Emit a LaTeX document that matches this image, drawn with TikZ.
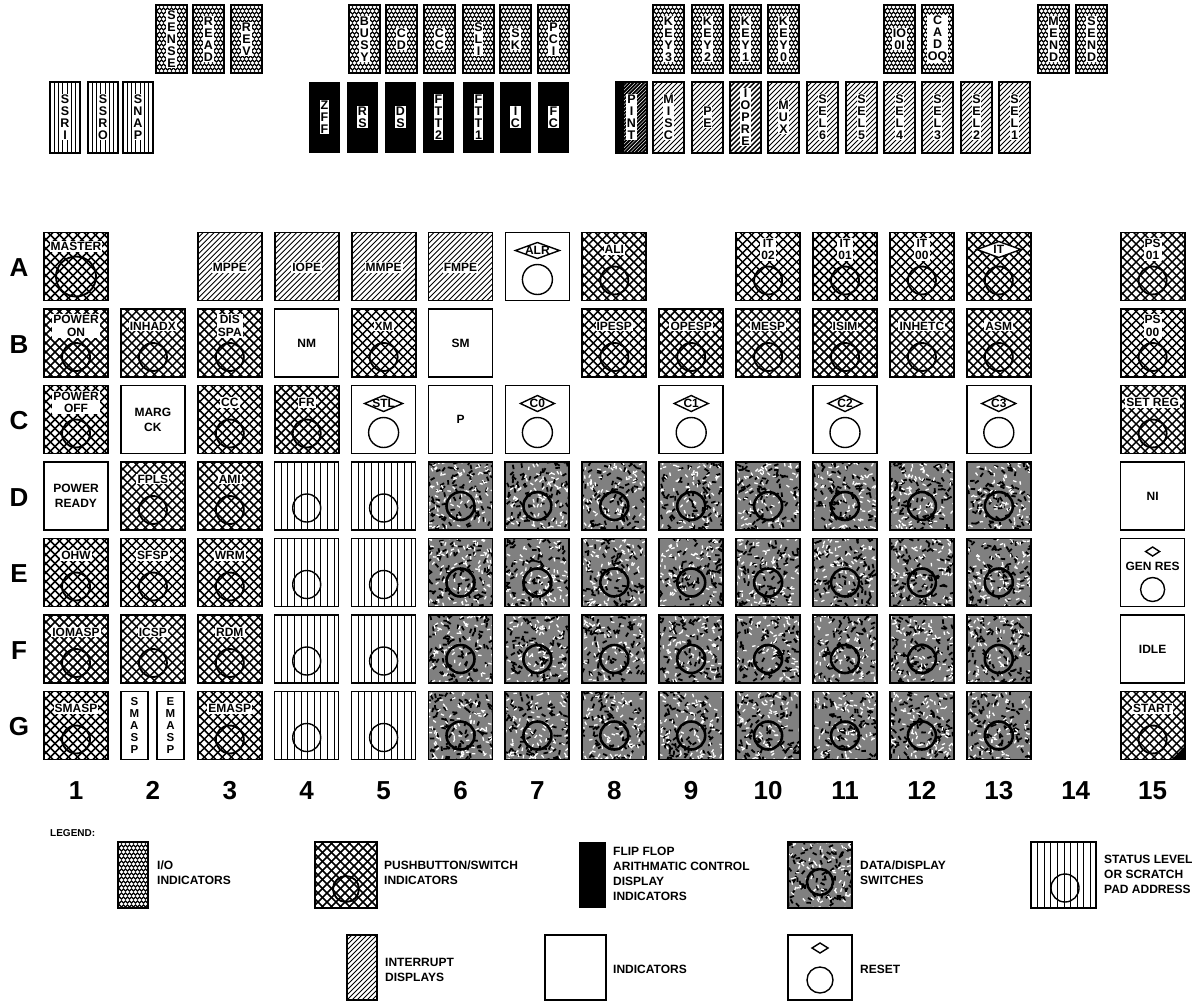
\documentclass[tikz,border=0pt]{standalone}
\usepackage{fontspec}
\setmainfont{Liberation Sans}

\tikzset{
  frame/.style={draw=black, line width=1.9pt},
  thinframe/.style={draw=black, line width=1.5pt},
  lab/.style={fill=white, inner sep=1.1pt, font=\fontsize{12}{12.5}\selectfont\bfseries, align=center},
  plainlab/.style={inner sep=1pt, font=\fontsize{12}{15}\selectfont\bfseries, align=center},
  vlab/.style={fill=white, inner sep=0.6pt, font=\fontsize{12.5}{12}\selectfont\bfseries, align=center},
  btn/.style={line width=1.9pt},
  rbtn/.style={line width=1.4pt},
  big/.style={font=\fontsize{26}{26}\selectfont\bfseries, inner sep=0pt, text height=18.6pt, text depth=0pt},
  legtext/.style={font=\fontsize{12}{15}\selectfont\bfseries, align=left, anchor=west, inner sep=0pt},
}

\newcommand\setcell[2]{\pgfmathsetmacro\cellX{44+(#1-1)*76.9}\pgfmathsetmacro\cellY{232.5+(#2-1)*76.5}}

% crosshatch fill  x y w h
\newcommand\xhfill[4]{\begin{scope}
  \clip (#1,#2) rectangle ++(#3,#4);
  \fill[white] (#1,#2) rectangle ++(#3,#4);
  \pgfmathtruncatemacro\nn{(#3+#4)/9+1}
  \foreach \i in {0,...,\nn}{
    \draw[line width=1.5pt] ({#1-#4+\i*9},{#2+#4}) -- ++(#4,-#4);
    \draw[line width=1.5pt] ({#1-#4+\i*9},{#2}) -- ++(#4,#4);
  }
  \end{scope}}
% diagonal lines fill  x y w h spacing width
\newcommand\ilfill[6]{\begin{scope}
  \clip (#1,#2) rectangle ++(#3,#4);
  \fill[white] (#1,#2) rectangle ++(#3,#4);
  \pgfmathtruncatemacro\nn{(#3+#4)/#5+1}
  \foreach \i in {0,...,\nn}{
    \draw[line width=#6] ({#1-#4+\i*#5},{#2+#4}) -- ++(#4,-#4);
  }
  \end{scope}}
% vertical lines fill  x y w h spacing
\newcommand\vlfill[5]{\begin{scope}
  \clip (#1,#2) rectangle ++(#3,#4);
  \fill[white] (#1,#2) rectangle ++(#3,#4);
  \pgfmathtruncatemacro\nn{#3/#5}
  \foreach \i in {1,...,\nn}{
    \draw[line width=0.9pt] ({#1+\i*#5},{#2}) -- ++(0,#4);
  }
  \end{scope}}
% dotted (I/O) fill  x y w h
\newcommand\dtfill[4]{\begin{scope}
  \clip (#1,#2) rectangle ++(#3,#4);
  \fill[black] (#1,#2) rectangle ++(#3,#4);
  \pgfmathtruncatemacro\nx{#3/4}
  \pgfmathtruncatemacro\ny{#4/4}
  \foreach \j in {0,...,\ny}{
    \pgfmathsetmacro\off{mod(\j,2)*2}
    \foreach \i in {0,...,\nx}{
      \fill[white] ({#1+1.5+\i*4+\off},{#2+2+\j*4}) circle (1.85);
    }
  }
  \end{scope}}
% speckle fill
\newcommand\speckle[4]{\begin{scope}
    \clip (#1,#2) rectangle ++(#3,#4);
    \fill[black!50] (#1,#2) rectangle ++(#3,#4);
    \foreach \k in {1,...,95}{
      \pgfmathsetmacro\px{#1+(#3+4)*rnd-2}
      \pgfmathsetmacro\py{#2+(#4+4)*rnd-2}
      \pgfmathsetmacro\pa{180*rnd}
      \draw[line width=1.8pt, black] (\px,\py) -- ++(\pa:4.5);
    }
    \foreach \k in {1,...,95}{
      \pgfmathsetmacro\px{#1+(#3+4)*rnd-2}
      \pgfmathsetmacro\py{#2+(#4+4)*rnd-2}
      \pgfmathsetmacro\pa{180*rnd}
      \draw[line width=1.3pt, white] (\px,\py) -- ++(\pa:3.5);
    }
  \end{scope}}

% pushbutton
\newcommand\PB[4]{\setcell{#1}{#2}
  \xhfill{\cellX}{\cellY}{64}{68}
  \draw[btn] (\cellX+32,\cellY+48) circle (14);
  \node[lab] (#3) at (\cellX+32,\cellY+17) {#4};
  \draw[frame] (\cellX,\cellY) rectangle ++(64,68);}
% pushbutton with diamond label
\newcommand\PBD[4]{\setcell{#1}{#2}
  \xhfill{\cellX}{\cellY}{64}{68}
  \draw[btn] (\cellX+32,\cellY+48) circle (14);
  \draw[rbtn, fill=white] (\cellX+10,\cellY+17) -- (\cellX+32,\cellY+9) -- (\cellX+54,\cellY+17) -- (\cellX+32,\cellY+25) -- cycle;
  \node[plainlab] (#3) at (\cellX+32,\cellY+17) {#4};
  \draw[frame] (\cellX,\cellY) rectangle ++(64,68);}
% interrupt display
\newcommand\INT[4]{\setcell{#1}{#2}
  \ilfill{\cellX}{\cellY}{64}{68}{5.5}{0.9pt}
  \node[lab] (#3) at (\cellX+32,\cellY+35) {#4};
  \draw[frame] (\cellX,\cellY) rectangle ++(64,68);}
% indicator
\newcommand\IND[4]{\setcell{#1}{#2}
  \node[plainlab] (#3) at (\cellX+32,\cellY+34) {#4};
  \draw[thinframe] (\cellX,\cellY) rectangle ++(64,68);}
% reset
\newcommand\RST[5]{\setcell{#1}{#2}
  \draw[rbtn] (\cellX+32-#5,\cellY+18) -- (\cellX+32,\cellY+10) -- (\cellX+32+#5,\cellY+18) -- (\cellX+32,\cellY+26) -- cycle;
  \node[plainlab] (#3) at (\cellX+32,\cellY+18) {#4};
  \draw[rbtn] (\cellX+32,\cellY+47) circle (15);
  \draw[thinframe] (\cellX,\cellY) rectangle ++(64,68);}
% status level
\newcommand\STAT[3]{\setcell{#1}{#2}
  \vlfill{\cellX}{\cellY}{64}{68}{6.6}
  \draw[rbtn] (\cellX+32,\cellY+46) circle (14);
  \coordinate (#3) at (\cellX+32,\cellY+34);
  \draw[thinframe] (\cellX,\cellY) rectangle ++(64,68);}
% data display
\newcommand\DATA[3]{\setcell{#1}{#2}
  \speckle{\cellX}{\cellY}{64}{68}
  \draw[line width=2.6pt] (\cellX+32,\cellY+44) circle (14);
  \coordinate (#3) at (\cellX+32,\cellY+34);
  \draw[frame] (\cellX,\cellY) rectangle ++(64,68);}

\begin{document}
\begin{tikzpicture}[x=1pt,y=-1pt]
\pgfmathsetseed{7}
\fill[white] (0,0) rectangle (1201,1002);
\useasboundingbox (0,0) rectangle (1201,1002);

% ---------- top tiles, upper row (I/O indicators)
\foreach \tx/\tn/\tt in {156/tSENSE/{S\\E\\N\\S\\E},193/tREAD/{R\\E\\A\\D},231/tREV/{R\\E\\V},
  349/tBUSY/{B\\U\\S\\Y},386/tCD/{C\\D},424/tCC/{C\\C},463/tSLI/{S\\L\\I},500/tSK/{S\\K},538/tPCI/{P\\C\\I},
  653/tKEYc/{K\\E\\Y\\3},692/tKEYb/{K\\E\\Y\\2},730/tKEYa/{K\\E\\Y\\1},768/tKEYo/{K\\E\\Y\\0},
  884/tIOOI/{IO\\0I},922/tCAD/{C\\A\\D\\OQ},1038/tMEND/{M\\E\\N\\D},1076/tSEND/{S\\E\\N\\D}}{
  \dtfill{\tx}{5}{31}{68}
  \node[vlab] (\tn) at (\tx+15.5,39) {\tt};
  \draw[frame] (\tx,5) rectangle ++(31,68);
}
% lower row: status / scratch pad
\foreach \tx/\tn/\tt in {50/tSSRI/{S\\S\\R\\I},88/tSSRO/{S\\S\\R\\O},123/tSNAP/{S\\N\\A\\P}}{
  \vlfill{\tx}{82}{30}{71}{4.3}
  \node[vlab] (\tn) at (\tx+15,117) {\tt};
  \draw[thinframe] (\tx,82) rectangle ++(30,71);
}
% lower row: flip flops
\foreach \tx/\tn/\tt in {309/tZFF/{Z\\F\\F},347/tRS/{R\\S},385/tDS/{D\\S},423/tFTTb/{F\\T\\T\\2},
  463/tFTTa/{F\\T\\T\\1},500/tIC/{I\\C},538/tFC/{F\\C}}{
  \fill[black] (\tx,82) rectangle ++(31,71);
  \node[vlab] (\tn) at (\tx+15.5,117) {\tt};
}
% lower row: interrupts
\ilfill{616}{82}{31}{71}{3.6}{1.8pt}
\fill[black] (616,82) rectangle ++(8,71);
\node[vlab] (tPINT) at (631.5,117) {P\\I\\N\\T};
\draw[frame] (616,82) rectangle ++(31,71);
\foreach \tx/\tn/\tt/\lw in {653/tMISC/{M\\I\\S\\C}/0.9pt,692/tPE/{P\\E}/0.9pt,730/tIOPRE/{I\\O\\P\\R\\E}/1.4pt,768/tMUX/{M\\U\\X}/0.9pt,
  807/tSELf/{S\\E\\L\\6}/0.9pt,846/tSELe/{S\\E\\L\\5}/0.9pt,884/tSELd/{S\\E\\L\\4}/0.9pt,922/tSELc/{S\\E\\L\\3}/0.9pt,
  961/tSELb/{S\\E\\L\\2}/0.9pt,999/tSELa/{S\\E\\L\\1}/0.9pt}{
  \ilfill{\tx}{82}{31}{71}{5}{\lw}
  \node[vlab] (\tn) at (\tx+15.5,117) {\tt};
  \draw[frame] (\tx,82) rectangle ++(31,71);
}

% ---------- row and column labels
\foreach \r/\l in {1/A,2/B,3/C,4/D,5/E,6/F,7/G}{
  \node[big] (row\l) at (19,{232.5+(\r-1)*76.5+35}) {\l};
}
\foreach \c in {1,...,15}{
  \node[big] (col\c) at ({44+(\c-1)*76.9+32},790) {\c};
}

% ---------- row A
\setcell{1}{1}
\xhfill{\cellX}{\cellY}{64}{68}
\draw[btn] (\cellX+32,\cellY+44) circle (20);
\node[lab] (A1) at (\cellX+32,\cellY+14) {MASTER};
\draw[frame] (\cellX,\cellY) rectangle ++(64,68);
\INT{3}{1}{A3}{MPPE}
\INT{4}{1}{A4}{IOPE}
\INT{5}{1}{A5}{MMPE}
\INT{6}{1}{A6}{FMPE}
\RST{7}{1}{A7}{ALR}{22}
\PB{8}{1}{A8}{ALI}
\PB{10}{1}{A10}{IT\\02}
\PB{11}{1}{A11}{IT\\01}
\PB{12}{1}{A12}{IT\\00}
\PBD{13}{1}{A13}{IT}
\PB{15}{1}{A15}{PS\\01}

% ---------- row B
\PB{1}{2}{B1}{POWER\\ON}
\PB{2}{2}{B2}{INHADX}
\PB{3}{2}{B3}{DIS\\SPA}
\IND{4}{2}{B4}{NM}
\PB{5}{2}{B5}{XM}
\IND{6}{2}{B6}{SM}
\PB{8}{2}{B8}{IPESP}
\PB{9}{2}{B9}{OPESP}
\PB{10}{2}{B10}{MESP}
\PB{11}{2}{B11}{ISIM}
\PB{12}{2}{B12}{INHETC}
\PB{13}{2}{B13}{ASM}
\PB{15}{2}{B15}{PS\\00}

% ---------- row C
\PB{1}{3}{C1}{POWER\\OFF}
\IND{2}{3}{C2}{MARG\\CK}
\PB{3}{3}{C3}{CC}
\PB{4}{3}{C4}{FR}
\RST{5}{3}{C5}{STL}{19}
\IND{6}{3}{C6}{P}
\RST{7}{3}{C7}{C0}{17}
\RST{9}{3}{C9}{C1}{17}
\RST{11}{3}{C11}{C2}{17}
\RST{13}{3}{C13}{C3}{17}
\PB{15}{3}{C15}{SET REG}

% ---------- rows D-G
\IND{1}{4}{D1}{POWER\\READY}
\PB{2}{4}{D2}{FPLS}
\PB{3}{4}{D3}{AMI}
\IND{15}{4}{D15}{NI}

\PB{1}{5}{E1}{OHW}
\PB{2}{5}{E2}{SFSP}
\PB{3}{5}{E3}{WRM}

\PB{1}{6}{F1}{IOMASP}
\PB{2}{6}{F2}{ICSP}
\PB{3}{6}{F3}{RDM}
\IND{15}{6}{F15}{IDLE}

\PB{1}{7}{G1}{SMASP}
\setcell{2}{7}
\node[plainlab, font=\fontsize{11.5}{11.8}\selectfont\bfseries] (G2a) at (\cellX+13.5,\cellY+34) {S\\M\\A\\S\\P};
\draw[thinframe] (\cellX,\cellY) rectangle ++(27,68);
\node[plainlab, font=\fontsize{11.5}{11.8}\selectfont\bfseries] (G2b) at (\cellX+49.5,\cellY+34) {E\\M\\A\\S\\P};
\draw[thinframe] (\cellX+36,\cellY) rectangle ++(27,68);
\PB{3}{7}{G3}{EMASP}

\foreach \r/\l in {4/D,5/E,6/F,7/G}{
  \STAT{4}{\r}{\l4}
  \STAT{5}{\r}{\l5}
  \foreach \c in {6,...,13}{ \DATA{\c}{\r}{\l\c} }
}

% GEN RES
\setcell{15}{5}
\draw[rbtn] (\cellX+25,\cellY+13) -- (\cellX+32,\cellY+8.5) -- (\cellX+39,\cellY+13) -- (\cellX+32,\cellY+17.5) -- cycle;
\node[plainlab] (E15) at (\cellX+32,\cellY+28) {GEN RES};
\draw[rbtn] (\cellX+32,\cellY+51) circle (12);
\draw[thinframe] (\cellX,\cellY) rectangle ++(64,68);

% START
\PB{15}{7}{G15}{START}
\setcell{15}{7}
\fill[black] (\cellX+64,\cellY+68) -- (\cellX+51,\cellY+68) -- (\cellX+64,\cellY+55) -- cycle;

% ---------- legend
\node[font=\fontsize{10}{11}\selectfont\bfseries, anchor=west, inner sep=0pt] (legend) at (50,833) {LEGEND:};

\dtfill{118}{842}{30}{66}
\draw[frame] (118,842) rectangle (148,908);
\node[legtext] (lgIO) at (157,873) {I/O\\INDICATORS};

\xhfill{315}{842}{62}{66}
\draw[btn] (346,889) circle (13);
\draw[frame] (315,842) rectangle (377,908);
\node[legtext] (lgPB) at (384,873) {PUSHBUTTON/SWITCH\\INDICATORS};

\fill[black] (579,842) rectangle (606,908);
\node[legtext] (lgFF) at (613,874) {FLIP FLOP\\ARITHMATIC CONTROL\\DISPLAY\\INDICATORS};

\speckle{788}{842}{64}{66}
\draw[line width=2.6pt] (820,882) circle (13);
\draw[frame] (788,842) rectangle (852,908);
\node[legtext] (lgDD) at (860,873) {DATA/DISPLAY\\SWITCHES};

\vlfill{1031}{842}{65}{66}{6.6}
\draw[rbtn] (1065,888) circle (14);
\draw[thinframe] (1031,842) rectangle (1096,908);
\node[legtext] (lgSL) at (1104,874) {STATUS LEVEL\\OR SCRATCH\\PAD ADDRESS};

\ilfill{347}{935}{30}{65}{5}{0.9pt}
\draw[frame] (347,935) rectangle (377,1000);
\node[legtext] (lgINT) at (385,970) {INTERRUPT\\DISPLAYS};

\draw[thinframe] (545,935) rectangle (606,1000);
\node[legtext] (lgIND) at (613,969) {INDICATORS};

\draw[thinframe] (788,935) rectangle (852,1000);
\draw[rbtn] (812,948) -- (820,943) -- (828,948) -- (820,953) -- cycle;
\draw[rbtn] (820,980) circle (13);
\node[legtext] (lgRST) at (860,969) {RESET};

\end{tikzpicture}
\end{document}
